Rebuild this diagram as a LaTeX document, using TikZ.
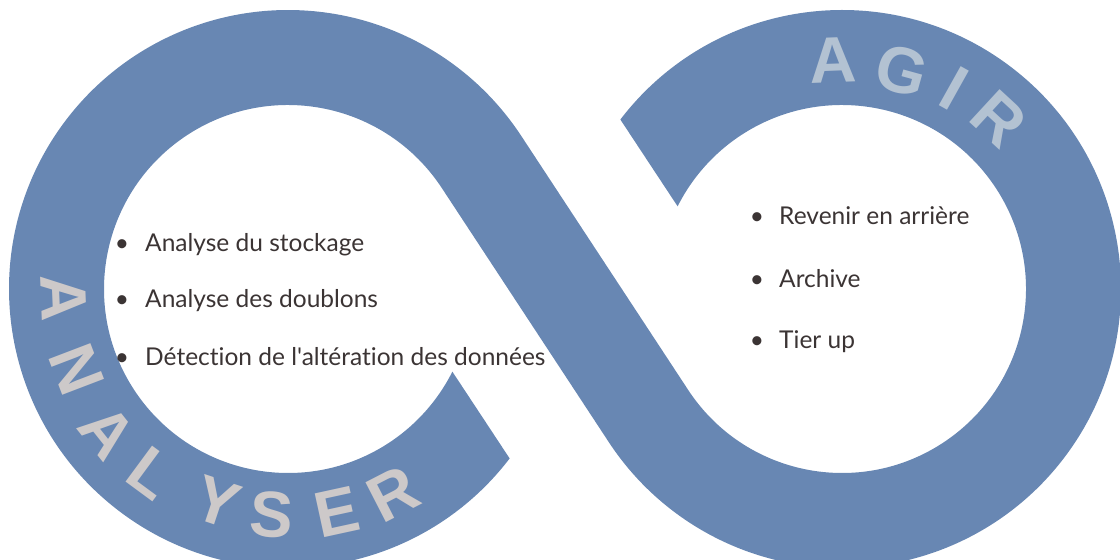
\documentclass[tikz,border=0pt]{standalone}
\usepackage{fontspec}
\setmainfont{Lato}[Ligatures={TeXOff,CommonOff}]
\newfontfamily\capsfont{Liberation Sans}
\definecolor{band}{HTML}{6887B3}
\definecolor{lettergray}{HTML}{CDC9C9}
\definecolor{letterblue}{HTML}{B3C2D2}
\definecolor{txt}{HTML}{3B3434}
\tikzset{
  bigletter/.style={inner sep=0pt, font=\capsfont\bfseries\fontsize{65}{65}\selectfont},
  bulletdot/.style={inner sep=0pt, anchor=base, text=txt, font=\fontsize{24.5}{24.5}\selectfont},
  itemtext/.style={inner sep=0pt, anchor=base west, text=txt, font=\fontsize{24.5}{24.5}\selectfont}
}
\begin{document}
\begin{tikzpicture}[x=1pt,y=1pt]
\useasboundingbox (0,0) rectangle (1120,560);
\coordinate (C1) at (288,271);
\coordinate (C2) at (842,271);
% infinity band
\fill[band] ([shift={(C1)}]-37.4:279pt) arc[start angle=-37.4, end angle=-326.7, radius=279pt]
 -- ([shift={(C2)}]213.3:184pt) arc[start angle=213.3, end angle=513.3, radius=184pt]
 -- ([shift={(C2)}]142.6:279pt) arc[start angle=142.6, end angle=-146.7, radius=279pt]
 -- ([shift={(C1)}]33.3:184pt) arc[start angle=33.3, end angle=333.3, radius=184pt]
 -- cycle;
% ANALYSER
\foreach \ch/\ang/\rr [count=\i] in {A/182.3/224, N/200.9/226, A/218.5/230, L/233.6/229, Y/251.6/225, S/265.9/226, E/282.3/228, R/297.2/230}
  \node[bigletter, text=lettergray, rotate=\ang+90] (la\i) at ([shift={(C1)}]\ang:\rr pt) {\ch};
% AGIR
\foreach \ch/\ang/\rr [count=\i] in {A/92.2/229, G/74.6/227, I/60.8/230, R/47.3/232}
  \node[bigletter, text=letterblue, rotate=\ang-90] (ra\i) at ([shift={(C2)}]\ang:\rr pt) {\ch};
% left list
\node[bulletdot] (lb1) at (122,308) {•};
\node[itemtext] (lt1) at (145,308) {Analyse du stockage};
\node[bulletdot] (lb2) at (122,252) {•};
\node[itemtext] (lt2) at (145,252) {Analyse des doublons};
\node[bulletdot] (lb3) at (122,194) {•};
\node[itemtext] (lt3) at (145,194) {Détection de l'altération des données};
% right list
\node[bulletdot] (rb1) at (757,335) {•};
\node[itemtext] (rt1) at (779,335) {Revenir en arrière};
\node[bulletdot] (rb2) at (757,272.5) {•};
\node[itemtext] (rt2) at (779,272.5) {Archive};
\node[bulletdot] (rb3) at (757,211) {•};
\node[itemtext] (rt3) at (779,211) {Tier up};
\end{tikzpicture}
\end{document}
